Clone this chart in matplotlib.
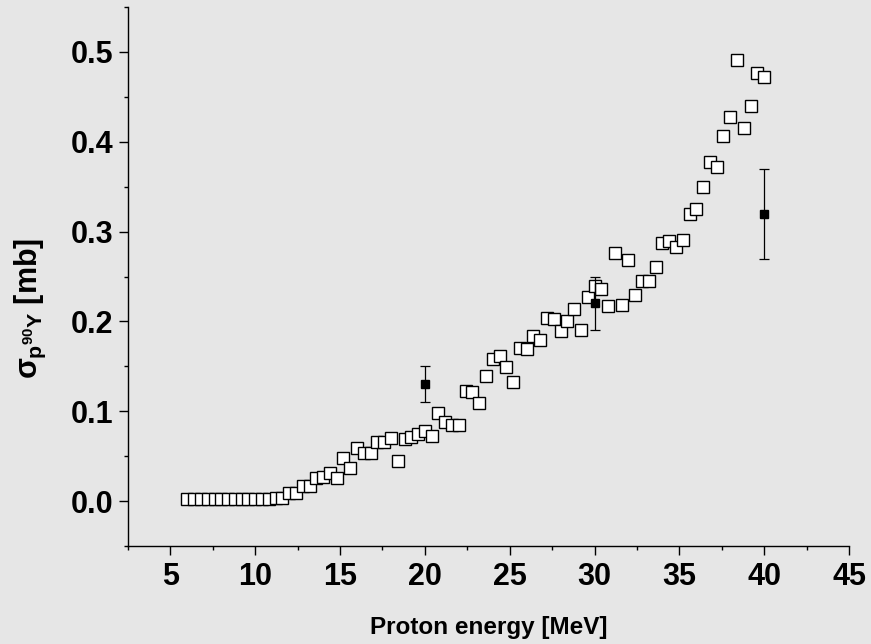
import matplotlib
matplotlib.use("Agg")
import matplotlib.pyplot as plt
from matplotlib.ticker import MultipleLocator

# proton energy [MeV] and cross section [mb]
energy = [6.0, 6.4, 6.8, 7.2, 7.6, 8.0, 8.4, 8.8, 9.2, 9.6,
          10.0, 10.4, 10.8, 11.2, 11.6, 12.0, 12.4, 12.8, 13.2, 13.6,
          14.0, 14.4, 14.8, 15.2, 15.6, 16.0, 16.4, 16.8, 17.2, 17.6,
          18.0, 18.4, 18.8, 19.2, 19.6, 20.0, 20.4, 20.8, 21.2, 21.6,
          22.0, 22.4, 22.8, 23.2, 23.6, 24.0, 24.4, 24.8, 25.2, 25.6,
          26.0, 26.4, 26.8, 27.2, 27.6, 28.0, 28.4, 28.8, 29.2, 29.6,
          30.0, 30.4, 30.8, 31.2, 31.6, 32.0, 32.4, 32.8, 33.2, 33.6,
          34.0, 34.4, 34.8, 35.2, 35.6, 36.0, 36.4, 36.8, 37.2, 37.6,
          38.0, 38.4, 38.8, 39.2, 39.6, 40.0]
sigma = [0.002, 0.002, 0.002, 0.002, 0.002, 0.002, 0.002, 0.002, 0.002, 0.002,
         0.002, 0.002, 0.002, 0.003, 0.003, 0.009, 0.009, 0.017, 0.017, 0.026,
         0.027, 0.031, 0.026, 0.048, 0.037, 0.059, 0.053, 0.053, 0.066, 0.066,
         0.070, 0.045, 0.069, 0.071, 0.075, 0.078, 0.072, 0.098, 0.088, 0.085,
         0.085, 0.122, 0.121, 0.109, 0.139, 0.158, 0.161, 0.149, 0.133, 0.170,
         0.169, 0.184, 0.179, 0.204, 0.203, 0.189, 0.201, 0.214, 0.191, 0.227,
         0.239, 0.236, 0.217, 0.276, 0.218, 0.268, 0.229, 0.245, 0.245, 0.261,
         0.287, 0.290, 0.283, 0.291, 0.320, 0.325, 0.350, 0.377, 0.372, 0.406,
         0.427, 0.491, 0.415, 0.440, 0.476, 0.472]

# measured points with error bars
exp_energy = [20, 30, 40]
exp_sigma = [0.13, 0.22, 0.32]
exp_err = [0.02, 0.03, 0.05]

bg = '#e6e6e6'
plt.rcParams['font.family'] = ['Liberation Sans', 'DejaVu Sans']
plt.rcParams['font.weight'] = 'bold'
plt.rcParams['mathtext.fontset'] = 'custom'
plt.rcParams['mathtext.rm'] = 'Liberation Sans:bold'
plt.rcParams['mathtext.it'] = 'Liberation Sans:bold'
plt.rcParams['mathtext.bf'] = 'Liberation Sans:bold'

fig = plt.figure(figsize=(8.71, 6.44), dpi=100, facecolor=bg)
ax = fig.add_axes([128 / 871, 1 - 546 / 644, (849 - 128) / 871, (546 - 7) / 644])
ax.set_facecolor(bg)

ax.plot(energy, sigma, linestyle='none', marker='s', markersize=9.3,
        markerfacecolor='white', markeredgecolor='black', markeredgewidth=1.0,
        zorder=3)
ax.errorbar(exp_energy, exp_sigma, yerr=exp_err, fmt='s', color='black',
            markersize=6, capsize=3.6, elinewidth=0.9, capthick=0.9, zorder=4)

ax.set_xlim(2.5, 45)
ax.set_ylim(-0.05, 0.55)
ax.xaxis.set_major_locator(MultipleLocator(5))
ax.xaxis.set_minor_locator(MultipleLocator(2.5))
ax.yaxis.set_major_locator(MultipleLocator(0.1))
ax.yaxis.set_minor_locator(MultipleLocator(0.05))
ax.yaxis.set_major_formatter(matplotlib.ticker.FormatStrFormatter('%.1f'))

for s in ['top', 'right']:
    ax.spines[s].set_visible(False)
for s in ['left', 'bottom']:
    ax.spines[s].set_linewidth(1.0)

ax.tick_params(which='major', direction='out', length=6.8, width=1.0, labelsize=22)
ax.tick_params(which='minor', direction='out', length=3.2, width=1.0)
ax.tick_params(axis='x', which='major', pad=5)
ax.tick_params(axis='y', which='major', pad=4)

ax.set_xlabel('Proton energy [MeV]', fontsize=17.5, fontweight='bold', labelpad=17)
fig.text(30 / 871, 1 - 308 / 644, r'$\sigma_{\mathrm{p}^{90}\mathrm{Y}}$ [mb]',
         rotation=90, fontsize=22, fontweight='bold', ha='center', va='center')

fig.savefig('out.png', dpi=100, facecolor=bg)
